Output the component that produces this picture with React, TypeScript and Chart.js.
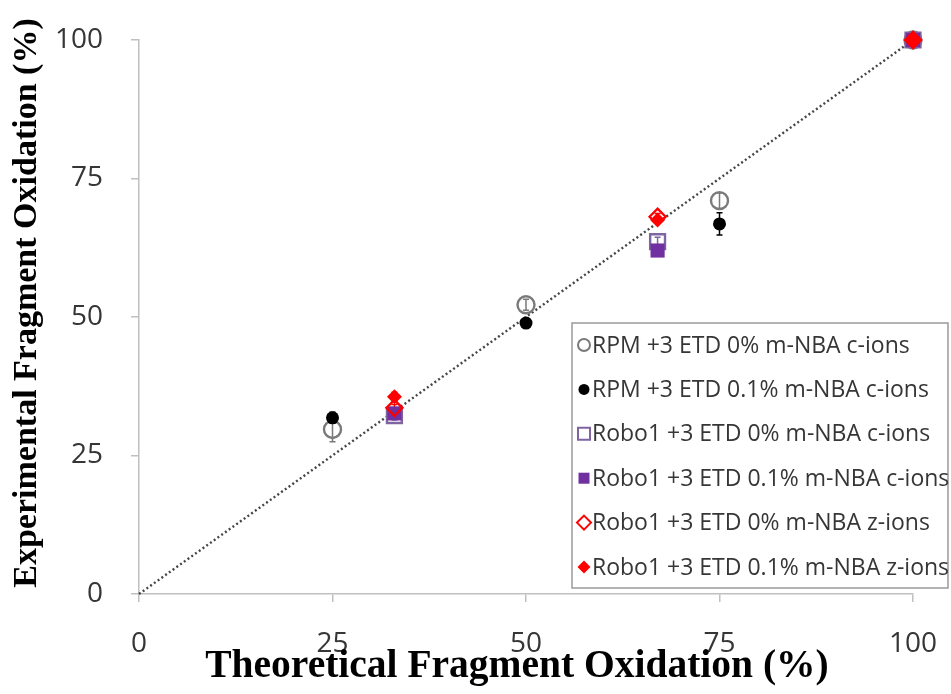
import React, { useEffect, useRef } from "react";
import { Chart, registerables } from "chart.js";

Chart.register(...registerables);

// ---- data ----
const seriesLabels = [
  "RPM +3 ETD 0% m-NBA c-ions",
  "RPM +3 ETD 0.1% m-NBA c-ions",
  "Robo1 +3 ETD 0% m-NBA c-ions",
  "Robo1 +3 ETD 0.1% m-NBA c-ions",
  "Robo1 +3 ETD 0% m-NBA z-ions",
  "Robo1 +3 ETD 0.1% m-NBA z-ions",
];
const rpmX = [25, 50, 75, 100];
const roboX = [33, 67, 100];
const rpm0Y = [29.7, 52.2, 71.0, 100];
const rpm0Err = [2.2, 1.0, 1.4, 0];
const rpm01Y = [31.8, 48.9, 66.8, 100];
const rpm01Err = [1.0, 0.6, 2.0, 0];
const robo0cY = [32.2, 63.6, 100];
const robo0cErr = [0.8, 0.8, 0];
const robo01cY = [32.6, 62.0, 100];
const robo01cErr = [0.8, 0.6, 0];
const robo0zY = [33.6, 68.1, 100];
const robo0zErr = [0.6, 0.6, 0];
const robo01zY = [35.6, 67.5, 100];
const robo01zErr = [0.8, 0.6, 0];
const diagX = [0, 100];
const diagY = [0, 100];
const tickValues = [0, 25, 50, 75, 100];
const xTitle = "Theoretical Fragment Oxidation (%)";
const yTitle = "Experimental Fragment Oxidation (%)";

type Style = {
  shape: "circle" | "rect" | "rectRot";
  radius: number;
  fill: string;
  stroke: string;
  errColor: string;
  legendSize: number;
};

const styles: Style[] = [
  { shape: "circle", radius: 8.5, fill: "rgba(0,0,0,0)", stroke: "#7a7a7a", errColor: "#7a7a7a", legendSize: 6 },
  { shape: "circle", radius: 6.5, fill: "#000000", stroke: "#000000", errColor: "#000000", legendSize: 5.5 },
  { shape: "rect", radius: 10.5, fill: "rgba(0,0,0,0)", stroke: "#8064a2", errColor: "#8064a2", legendSize: 6 },
  { shape: "rect", radius: 10, fill: "#7030a0", stroke: "#7030a0", errColor: "#7030a0", legendSize: 5.5 },
  { shape: "rectRot", radius: 8, fill: "rgba(0,0,0,0)", stroke: "#ff0000", errColor: "#ff0000", legendSize: 7 },
  { shape: "rectRot", radius: 7.5, fill: "#ff0000", stroke: "#ff0000", errColor: "#ff0000", legendSize: 6.5 },
];

const seriesX = [rpmX, rpmX, roboX, roboX, roboX, roboX];
const seriesY = [rpm0Y, rpm01Y, robo0cY, robo01cY, robo0zY, robo01zY];
const seriesErr = [rpm0Err, rpm01Err, robo0cErr, robo01cErr, robo0zErr, robo01zErr];

function drawMarker(ctx: CanvasRenderingContext2D, s: Style, x: number, y: number, size: number) {
  ctx.beginPath();
  if (s.shape === "circle") {
    ctx.arc(x, y, size, 0, Math.PI * 2);
  } else if (s.shape === "rect") {
    ctx.rect(x - size, y - size, size * 2, size * 2);
  } else {
    ctx.moveTo(x, y - size);
    ctx.lineTo(x + size, y);
    ctx.lineTo(x, y + size);
    ctx.lineTo(x - size, y);
    ctx.closePath();
  }
  const open = s.fill === "rgba(0,0,0,0)";
  if (!open) {
    ctx.fillStyle = s.fill;
    ctx.fill();
  } else {
    ctx.fillStyle = "#ffffff";
    ctx.fill();
    ctx.strokeStyle = s.stroke;
    ctx.lineWidth = 2;
    ctx.stroke();
  }
}

const errorBarPlugin = {
  id: "errBars",
  beforeDatasetsDraw(chart: any) {
    const { ctx, scales } = chart;
    const xs = scales.x;
    const ys = scales.y;
    ctx.save();
    seriesY.forEach((vals, i) => {
      vals.forEach((v, j) => {
        const e = seriesErr[i][j];
        if (!e) return;
        const px = xs.getPixelForValue(seriesX[i][j]);
        const top = ys.getPixelForValue(v + e);
        const bot = ys.getPixelForValue(v - e);
        ctx.strokeStyle = styles[i].errColor;
        ctx.lineWidth = 1.5;
        ctx.beginPath();
        ctx.moveTo(px, top);
        ctx.lineTo(px, bot);
        ctx.moveTo(px - 3, top);
        ctx.lineTo(px + 3, top);
        ctx.moveTo(px - 3, bot);
        ctx.lineTo(px + 3, bot);
        ctx.stroke();
      });
    });
    ctx.restore();
  },
};

const axisTitlePlugin = {
  id: "axisTitles",
  afterDraw(chart: any) {
    const { ctx, chartArea } = chart;
    ctx.save();
    ctx.fillStyle = "#000000";
    ctx.textAlign = "center";
    ctx.textBaseline = "alphabetic";
    // x title
    ctx.font = 'bold 39.5px "Liberation Serif"';
    ctx.fillText(xTitle, (chartArea.left + chartArea.right) / 2 - 9, chartArea.bottom + 83);
    // y title
    const cy = (chartArea.top + chartArea.bottom) / 2 - 14;
    ctx.translate(27, cy);
    ctx.rotate(-Math.PI / 2);
    ctx.font = 'bold 34px "Liberation Serif"';
    ctx.textBaseline = "middle";
    ctx.fillText(yTitle, 0, 0);
    ctx.restore();
  },
};

const boxLegendPlugin = {
  id: "boxLegend",
  afterDraw(chart: any) {
    const { ctx, chartArea } = chart;
    const bw = 376;
    const bh = 265;
    const bx = chartArea.right + 35 - bw;
    const by = chartArea.bottom - 6 - bh;
    ctx.save();
    ctx.fillStyle = "#ffffff";
    ctx.fillRect(bx, by, bw, bh);
    ctx.strokeStyle = "#9a9a9a";
    ctx.lineWidth = 1.5;
    ctx.strokeRect(bx, by, bw, bh);
    ctx.font = '23px "Open Sans"';
    ctx.textBaseline = "middle";
    ctx.textAlign = "left";
    seriesLabels.forEach((label, i) => {
      const cy = by + 22 + i * 44.4;
      const s = styles[i];
      drawMarker(ctx, s, bx + 12, cy, s.legendSize);
      ctx.fillStyle = "#363636";
      ctx.fillText(label, bx + 20, cy + 1);
    });
    ctx.restore();
  },
};

export default function App() {
  const ref = useRef<HTMLCanvasElement | null>(null);

  useEffect(() => {
    if (!ref.current) return;
    const datasets: any[] = [
      {
        label: "diagonal",
        data: diagX.map((x, i) => ({ x, y: diagY[i] })),
        showLine: true,
        pointRadius: 0,
        borderColor: "#454545",
        borderWidth: 2.4,
        borderDash: [2, 2.6],
        fill: false,
        order: 10,
        clip: false,
      },
      ...seriesLabels.map((label, i) => ({
        label,
        data: seriesX[i].map((x, j) => ({ x, y: seriesY[i][j] })),
        pointStyle: styles[i].shape,
        pointRadius: styles[i].radius,
        pointBackgroundColor: styles[i].fill,
        pointBorderColor: styles[i].stroke,
        pointBorderWidth: styles[i].fill === "rgba(0,0,0,0)" ? 2.4 : 0,
        showLine: false,
        order: 6 - i,
        clip: false,
      })),
    ];

    const chart = new Chart(ref.current, {
      type: "scatter",
      data: { datasets },
      options: {
        animation: false,
        responsive: false,
        devicePixelRatio: 1,
        layout: { autoPadding: false, padding: { left: 0, right: 38, top: 40, bottom: 0 } },
        plugins: {
          legend: { display: false },
          tooltip: { enabled: false },
        },
        scales: {
          x: {
            type: "linear",
            min: 0,
            max: 100,
            afterBuildTicks: (scale: any) => {
              scale.ticks = tickValues.map((v) => ({ value: v }));
            },
            afterFit: (scale: any) => {
              scale.height = 100;
              scale.paddingLeft = 0;
              scale.paddingRight = 0;
            },
            grid: {
              drawOnChartArea: false,
              drawTicks: true,
              tickLength: 8,
              color: "#c0c0c0",
              lineWidth: 1.5,
            },
            border: { display: true, color: "#c0c0c0", width: 1.5 },
            ticks: {
              color: "#363636",
              font: { family: "Open Sans", size: 28 },
              padding: 25,
              maxRotation: 0,
            },
            title: { display: false },
          },
          y: {
            type: "linear",
            min: 0,
            max: 100,
            afterBuildTicks: (scale: any) => {
              scale.ticks = tickValues.map((v) => ({ value: v }));
            },
            afterFit: (scale: any) => {
              scale.width = 139;
              scale.paddingTop = 0;
              scale.paddingBottom = 0;
            },
            grid: {
              drawOnChartArea: false,
              drawTicks: true,
              tickLength: 8,
              color: "#c0c0c0",
              lineWidth: 1.5,
            },
            border: { display: true, color: "#c0c0c0", width: 1.5 },
            ticks: {
              color: "#363636",
              font: { family: "Open Sans", size: 28 },
              padding: 28,
            },
            title: { display: false },
          },
        },
      },
      plugins: [errorBarPlugin, boxLegendPlugin, axisTitlePlugin],
    });
    return () => chart.destroy();
  }, []);

  return (
    <div style={{ position: "absolute", left: 0, top: 0, width: 951, height: 694, background: "#ffffff" }}>
      <canvas ref={ref} width={951} height={694} style={{ display: "block" }} />
    </div>
  );
}
